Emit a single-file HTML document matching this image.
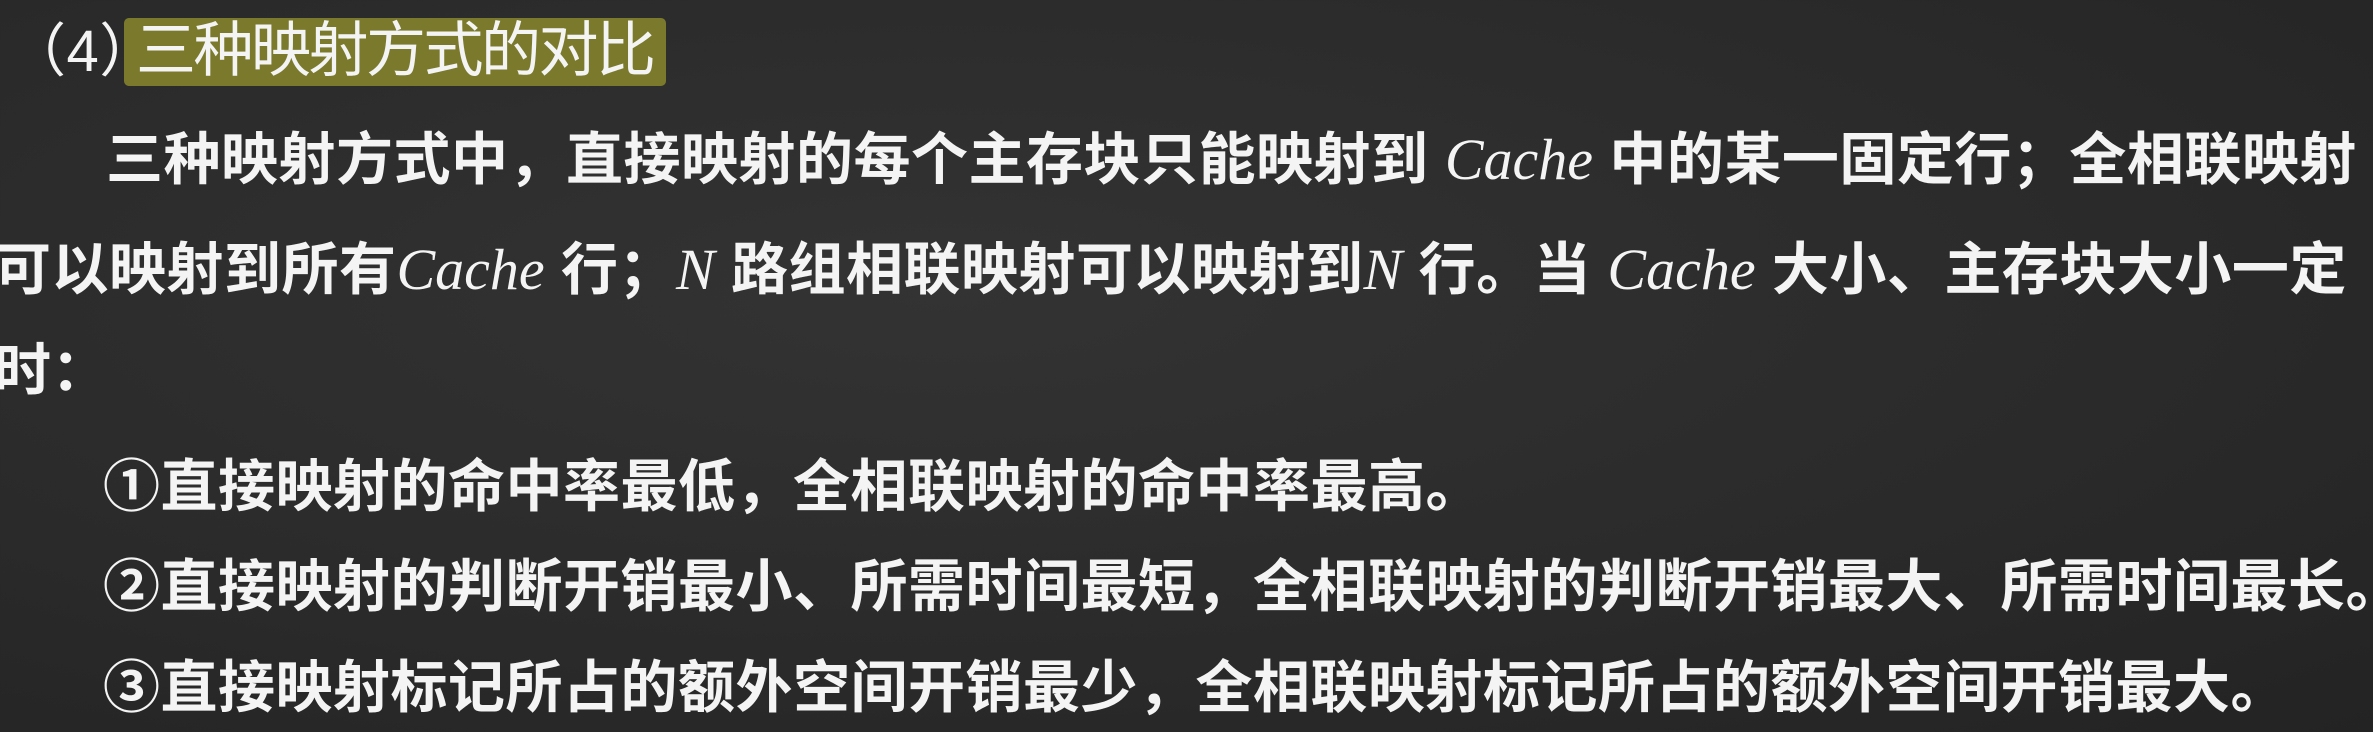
<!DOCTYPE html>
<html><head><meta charset="utf-8"><style>
html,body{margin:0;padding:0;}
body{width:2373px;height:732px;overflow:hidden;background:#2c2c2c;position:relative;
background:radial-gradient(ellipse at 40% 40%,#333 0%,#2a2a2a 60%,#232323 100%);
font-family:"Liberation Sans","Noto Sans CJK SC",sans-serif;color:#f4f4f4;}
.l{position:absolute;white-space:nowrap;font-size:57px;line-height:57px;font-weight:bold;letter-spacing:0.5px;}
.c{font-family:"Liberation Serif",serif;font-style:italic;font-weight:normal;font-size:58px;letter-spacing:0;}
#hl{position:absolute;left:124px;top:18px;width:542px;height:68px;background:#7b7a2c;border-radius:5px;}
</style></head><body>
<div id="hl"></div>
<div class="l" style="left:8px;top:23px;font-weight:normal;font-size:58px;">（4）</div>
<div class="l" style="left:136px;top:22px;font-weight:normal;font-size:60px;letter-spacing:-2.5px;">三种映射方式的对比</div>
<div class="l" style="left:106px;top:131px;">三种映射方式中，直接映射的每个主存块只能映射到 <span class="c">Cache</span> 中的某一固定行；全相联映射</div>
<div class="l" style="left:-6px;top:241px;">可以映射到所有<span class="c">Cache</span> 行；<span class="c">N</span> 路组相联映射可以映射到<span class="c">N</span> 行。当 <span class="c">Cache</span> 大小、主存块大小一定</div>
<div class="l" style="left:-6px;top:343px;">时：</div>
<div class="l" style="left:103px;top:459px;">①直接映射的命中率最低，全相联映射的命中率最高。</div>
<div class="l" style="left:103px;top:559px;">②直接映射的判断开销最小、所需时间最短，全相联映射的判断开销最大、所需时间最长。</div>
<div class="l" style="left:103px;top:660px;">③直接映射标记所占的额外空间开销最少，全相联映射标记所占的额外空间开销最大。</div>
</body></html>
